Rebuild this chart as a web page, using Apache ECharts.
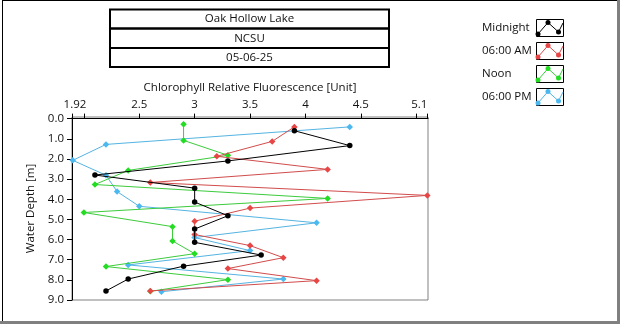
<!DOCTYPE html>
<html>
<head>
<meta charset="utf-8">
<script src="https://cdn.jsdelivr.net/npm/echarts@6/dist/echarts.min.js"></script>
<style>
  html, body { margin: 0; padding: 0; background: #fff; }
  #chart { width: 620px; height: 324px; }
</style>
</head>
<body>
<div id="chart"></div>
<script>
// Header lines shown in the stacked boxes
const titleLines = ['Oak Hollow Lake', 'NCSU', '05-06-25'];

// Profile names (legend order)
const seriesNames = ['Midnight', '06:00 AM', 'Noon', '06:00 PM'];

// Axis ranges and tick marks
const xMin = 1.893, xMax = 5.106;
const yMin = -0.08, yMax = 9;
const xTickValues = [1.893, 2, 2.5, 3, 3.5, 4, 4.5, 5, 5.1];
const xLabelValues = [1.92, 2.5, 3, 3.5, 4, 4.5, 5.1];
const yTickValues = [0, 1, 2, 3, 4, 5, 6, 7, 8, 9];

// Midnight profile: depth [m] and fluorescence
const midnightDepth = [0.60, 1.34, 2.10, 2.80, 3.45, 4.14, 4.82, 5.48, 6.14, 6.77, 7.32, 7.96, 8.55];
const midnightValue = [3.9, 4.4, 3.3, 2.1, 3.0, 3.0, 3.3, 3.0, 3.0, 3.6, 2.9, 2.4, 2.2];

// 06:00 AM profile
const amDepth = [0.41, 1.13, 1.87, 2.52, 3.17, 3.81, 4.44, 5.09, 5.75, 6.30, 6.90, 7.44, 8.04, 8.55];
const amValue = [3.9, 3.7, 3.2, 4.2, 2.6, 5.1, 3.5, 3.0, 3.0, 3.5, 3.8, 3.3, 4.1, 2.6];

// Noon profile
const noonDepth = [0.28, 1.08, 1.82, 2.57, 3.27, 3.96, 4.66, 5.36, 6.07, 6.70, 7.34, 7.99, 8.57];
const noonValue = [2.9, 2.9, 3.3, 2.4, 2.1, 4.2, 2.0, 2.8, 2.8, 3.0, 2.2, 3.3, 2.6];

// 06:00 PM profile
const pmDepth = [0.41, 1.28, 2.07, 2.81, 3.62, 4.35, 5.17, 5.90, 6.55, 7.26, 7.96, 8.59];
const pmValue = [4.4, 2.2, 1.9, 2.2, 2.3, 2.5, 4.1, 3.0, 3.5, 2.4, 3.8, 2.7];

const lineColors = ['#000000', '#d24c4c', '#3ccc3c', '#55b4e2'];
const markColors = ['#000000', '#e84545', '#22dd22', '#4cb8f0'];
const FONT = '"Open Sans", "Noto Sans", sans-serif';
const TEXT = '#111111';

function pairs(values, depths) {
  return values.map((v, i) => [v, depths[i]]);
}

const profiles = [
  { name: seriesNames[0], data: pairs(midnightValue, midnightDepth), symbol: 'circle', size: 5.5, z: 6 },
  { name: seriesNames[1], data: pairs(amValue, amDepth), symbol: 'diamond', size: 6.5, z: 5 },
  { name: seriesNames[2], data: pairs(noonValue, noonDepth), symbol: 'diamond', size: 6.5, z: 4 },
  { name: seriesNames[3], data: pairs(pmValue, pmDepth), symbol: 'diamond', size: 6.5, z: 3 }
];

const series = profiles.map((p, i) => ({
  name: p.name,
  type: 'line',
  data: p.data,
  z: p.z,
  symbol: p.symbol,
  symbolSize: p.size,
  showAllSymbol: true,
  animation: false,
  lineStyle: { color: lineColors[i], width: 1 },
  itemStyle: { color: markColors[i] }
}));

// Graphic pieces: frame, header boxes, legend
const graphics = [];
graphics.push({ type: 'rect', shape: { x: 2, y: 0, width: 615, height: 1 }, style: { fill: '#000' }, silent: true });
graphics.push({ type: 'rect', shape: { x: 2, y: 0, width: 1, height: 321 }, style: { fill: '#000' }, silent: true });
graphics.push({ type: 'rect', shape: { x: 617, y: 0, width: 3, height: 324 }, style: { fill: '#808080' }, silent: true });
graphics.push({ type: 'rect', shape: { x: 0, y: 321, width: 620, height: 3 }, style: { fill: '#808080' }, silent: true });

const boxTop = [9.5, 28.5, 48];
const boxBottom = [28.5, 48, 67];
titleLines.forEach((t, i) => {
  graphics.push({
    type: 'rect',
    shape: { x: 110, y: boxTop[i], width: 279, height: boxBottom[i] - boxTop[i] },
    style: { fill: 'none', stroke: '#000', lineWidth: 2 },
    silent: true
  });
  graphics.push({
    type: 'text',
    x: 249.5, y: (boxTop[i] + boxBottom[i]) / 2,
    style: { text: t, font: '11.5px ' + FONT, fill: TEXT, align: 'center', verticalAlign: 'middle' },
    silent: true
  });
});

seriesNames.forEach((n, i) => {
  const top = 19 + 23 * i;
  graphics.push({
    type: 'text',
    x: 482, y: top + 9,
    style: { text: n, font: '11.5px ' + FONT, fill: TEXT, align: 'left', verticalAlign: 'middle' },
    silent: true
  });
  graphics.push({
    type: 'rect',
    shape: { x: 536.5, y: top + 0.5, width: 27, height: 17 },
    style: { fill: '#fff', stroke: '#000', lineWidth: 1 },
    silent: true
  });
  const pts = [[538, top + 15], [548, top + 3.5], [558.5, top + 13], [563, top + 4]];
  graphics.push({
    type: 'polyline',
    shape: { points: pts },
    style: { stroke: lineColors[i], lineWidth: 1, fill: 'none' },
    silent: true
  });
  pts.slice(0, 3).forEach(pt => {
    graphics.push({
      type: 'circle',
      shape: { cx: pt[0], cy: pt[1], r: 2.5 },
      style: { fill: markColors[i] },
      silent: true
    });
  });
});

const chart = echarts.init(document.getElementById('chart'), null, { renderer: 'canvas' });
chart.setOption({
  animation: false,
  backgroundColor: '#ffffff',
  grid: {
    left: 72, right: 192, top: 117, bottom: 24,
    show: true, borderColor: '#808080', borderWidth: 1, backgroundColor: '#fff'
  },
  xAxis: {
    type: 'value',
    position: 'top',
    min: xMin, max: xMax,
    name: 'Chlorophyll Relative Fluorescence [Unit]',
    nameLocation: 'middle',
    nameGap: 22,
    nameTextStyle: { fontFamily: FONT, fontSize: 11.5, color: TEXT },
    axisLine: { show: true, lineStyle: { color: '#000', width: 1 } },
    axisTick: { show: true, length: 5, customValues: xTickValues, lineStyle: { color: '#000' } },
    axisLabel: {
      customValues: xLabelValues,
      margin: 6,
      fontFamily: FONT, fontSize: 11.5, color: TEXT,
      formatter: v => String(+v.toFixed(2)),
      alignMaxLabel: 'right'
    },
    splitLine: { show: false }
  },
  yAxis: {
    type: 'value',
    inverse: true,
    min: yMin, max: yMax,
    name: 'Water Depth [m]',
    nameLocation: 'middle',
    nameGap: 26,
    nameTextStyle: { fontFamily: FONT, fontSize: 11.5, color: TEXT },
    axisLine: { show: true, lineStyle: { color: '#000', width: 1 } },
    axisTick: { show: true, length: 5, customValues: yTickValues, lineStyle: { color: '#000' } },
    axisLabel: {
      customValues: yTickValues,
      margin: 8,
      fontFamily: FONT, fontSize: 11.5, color: TEXT,
      formatter: v => (+v).toFixed(1)
    },
    splitLine: { show: false }
  },
  series: series,
  graphic: graphics
});
</script>
</body>
</html>
